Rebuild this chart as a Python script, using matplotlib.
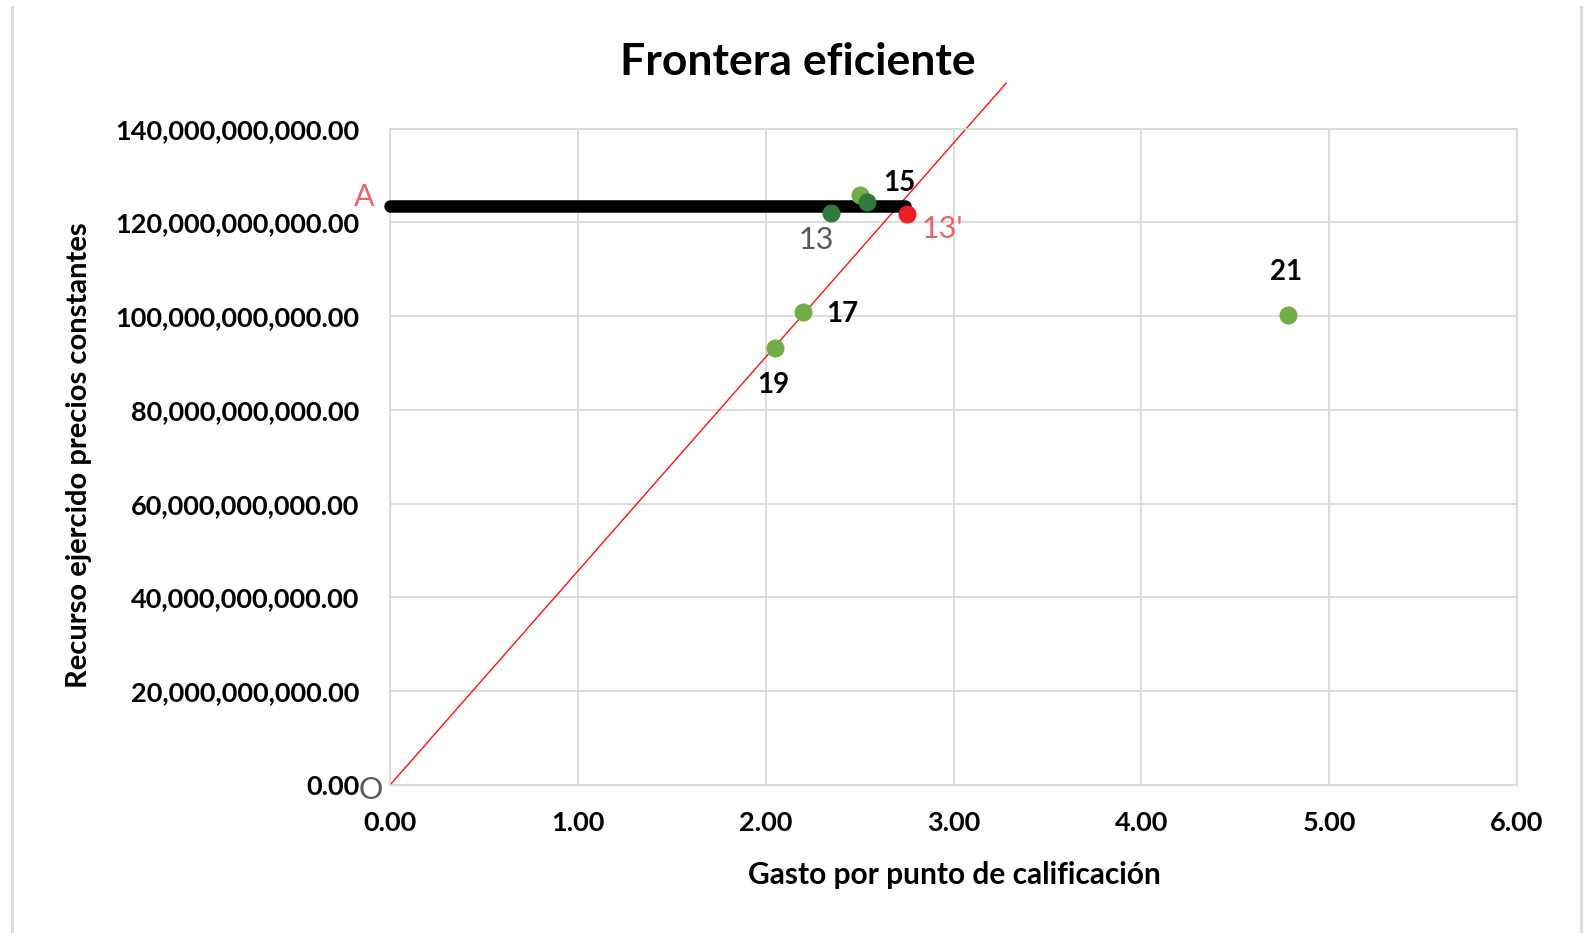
import matplotlib
matplotlib.use("Agg")
import matplotlib.pyplot as plt
from matplotlib.ticker import FuncFormatter

# datos (gasto por punto, recurso ejercido)
x_claro = [2.05, 2.20, 4.78, 2.50]
y_claro = [93.3e9, 100.9e9, 100.2e9, 125.9e9]
x_oscuro = [2.35, 2.54]
y_oscuro = [122.1e9, 124.4e9]
x_rojo = [2.755]
y_rojo = [121.9e9]

frontera_x = [0.0, 2.74]
frontera_y = [123.6e9, 123.6e9]
recta_x = [0.0, 3.28]
recta_y = [0.0, 149.7e9]

etiquetas = ["19", "17", "21", "15", "13", "13'", "A", "O"]
etq_x = [2.04, 2.41, 4.77, 2.71, 2.27, 2.94, -0.135, -0.105]
etq_y = [85.3e9, 100.5e9, 109.5e9, 128.5e9, 116.2e9, 118.6e9, 125.5e9, -1.1e9]
etq_color = ["black", "black", "black", "black", "#595959", "#F0616B", "#F0616B", "#595959"]

plt.rcParams['font.family'] = ['Lato', 'DejaVu Sans']

fig = plt.figure(figsize=(15.88, 9.33), dpi=100)
ax = fig.add_axes([0.2456, 0.1586, 0.7097, 0.7035])

ax.set_xlim(0, 6)
ax.set_ylim(0, 140e9)
ax.set_xticks([0, 1, 2, 3, 4, 5, 6])
ax.set_yticks([i * 20e9 for i in range(8)])
ax.xaxis.set_major_formatter(FuncFormatter(lambda v, p: "%.2f" % v))
ax.yaxis.set_major_formatter(FuncFormatter(lambda v, p: "{:,.2f}".format(v)))
ax.tick_params(axis='y', length=0, labelsize=19.5, pad=22)
ax.tick_params(axis='x', length=0, labelsize=19.5, pad=19)
for lab in ax.get_xticklabels() + ax.get_yticklabels():
    lab.set_fontweight('bold')
ax.grid(True, color='#D9D9D9', lw=1.3)
ax.set_axisbelow(True)
for s in ax.spines.values():
    s.set_color('#D9D9D9')
    s.set_linewidth(1.3)

ax.plot(recta_x, recta_y, color='#FF1010', lw=1.0, clip_on=False, zorder=2)
ax.plot(frontera_x, frontera_y, color='black', lw=9, solid_capstyle='round',
        clip_on=False, zorder=3)
ax.plot(x_claro, y_claro, 'o', color='#70AD47', ms=12, zorder=4)
ax.plot(x_oscuro, y_oscuro, 'o', color='#2F7A3A', ms=12, zorder=5)
ax.plot(x_rojo, y_rojo, 'o', color='#EE1C25', ms=12, zorder=5)

for t, xx, yy, c in zip(etiquetas, etq_x, etq_y, etq_color):
    fw = 'bold' if c == 'black' else 'normal'
    fs = 20 if c == 'black' else 22
    ax.text(xx, yy, t, color=c, fontsize=fs, fontweight=fw, ha='center', va='center',
            clip_on=False, zorder=6)

fig.text(0.5025, 0.934, "Frontera eficiente", fontsize=32, fontweight='bold',
         ha='center', va='center')
fig.text(0.6008, 0.062, "Gasto por punto de calificación", fontsize=21.5,
         fontweight='bold', ha='center', va='center')
fig.text(0.0497, 0.512, "Recurso ejercido precios constantes", fontsize=21,
         fontweight='bold', ha='center', va='center', rotation=90)

# bordes del grafico
fig.add_artist(plt.Line2D([0.0076, 0.0076], [0, 0.992], color='#D9D9D9', lw=2))
fig.add_artist(plt.Line2D([0.9955, 0.9955], [0, 0.992], color='#D9D9D9', lw=2))

fig.savefig("out.png", dpi=100)
